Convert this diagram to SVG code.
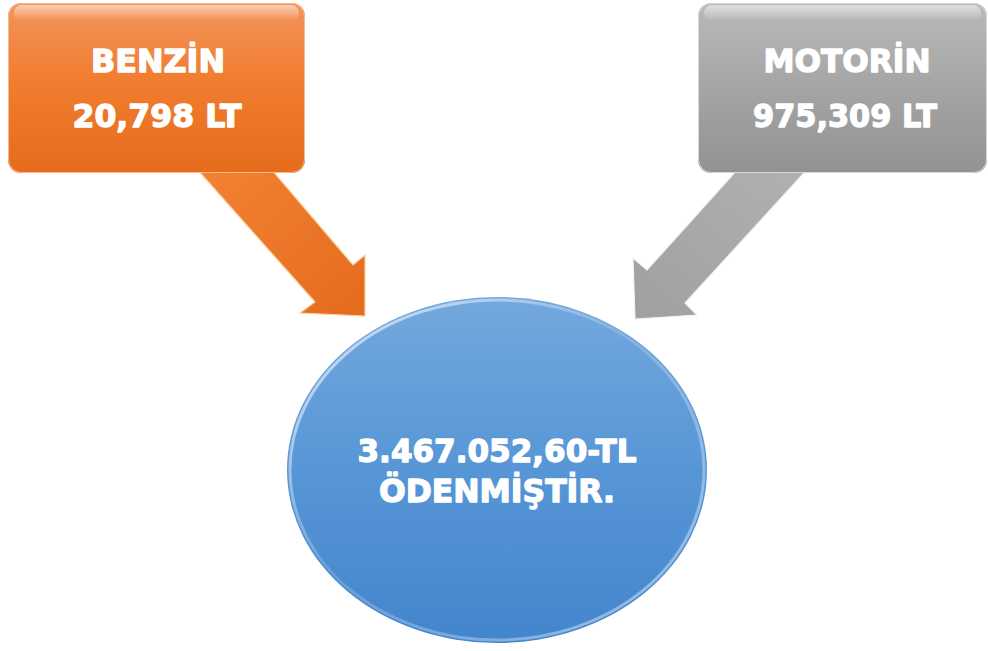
<svg xmlns="http://www.w3.org/2000/svg" width="988" height="651" viewBox="0 0 988 651">
  <defs>
    <linearGradient id="gOrange" x1="0" y1="0" x2="0" y2="1">
      <stop offset="0" stop-color="#f3945c"/>
      <stop offset="0.45" stop-color="#f17d30"/>
      <stop offset="1" stop-color="#e66c1c"/>
    </linearGradient>
    <linearGradient id="gGray" x1="0" y1="0" x2="0" y2="1">
      <stop offset="0" stop-color="#b9b9b9"/>
      <stop offset="0.5" stop-color="#a5a5a5"/>
      <stop offset="1" stop-color="#929292"/>
    </linearGradient>
    <linearGradient id="gGloss" x1="0" y1="0" x2="0" y2="1">
      <stop offset="0" stop-color="#ffffff" stop-opacity="0.55"/>
      <stop offset="1" stop-color="#ffffff" stop-opacity="0"/>
    </linearGradient>
    <linearGradient id="gBlue" x1="0" y1="0" x2="0" y2="1">
      <stop offset="0" stop-color="#74a8de"/>
      <stop offset="0.5" stop-color="#5796d6"/>
      <stop offset="1" stop-color="#4385cc"/>
    </linearGradient>
    <linearGradient id="gRim" x1="0" y1="0" x2="1" y2="1">
      <stop offset="0" stop-color="#ffffff" stop-opacity="0.75"/>
      <stop offset="0.45" stop-color="#ffffff" stop-opacity="0.15"/>
      <stop offset="1" stop-color="#ffffff" stop-opacity="0.5"/>
    </linearGradient>
    <linearGradient id="gArrowO" x1="0" y1="0" x2="1" y2="1">
      <stop offset="0" stop-color="#f48535"/>
      <stop offset="1" stop-color="#e56b1d"/>
    </linearGradient>
    <linearGradient id="gArrowG" x1="1" y1="0" x2="0" y2="1">
      <stop offset="0" stop-color="#b3b3b3"/>
      <stop offset="1" stop-color="#a0a0a0"/>
    </linearGradient>
  </defs>
  <style>
    .lbl { font-family: "DejaVu Sans", Verdana, sans-serif; font-weight: bold; font-size: 32px; fill: #ffffff; stroke: #ffffff; stroke-width: 1.3px; stroke-linejoin: round; text-anchor: middle; }
    .box { stroke: none; }
  </style>

  <g id="connectors">
    <polygon id="arrow-benzin" points="180,150 315,302 300,313 365,316 365,255 353,265 255,150" fill="url(#gArrowO)" stroke="#fbd3a6" stroke-width="1.2" stroke-linejoin="miter"/>
    <polygon id="arrow-motorin" points="825,150 685,303 697,315 635,319 633,258 647,270 755,150" fill="url(#gArrowG)" stroke="#f2f2f2" stroke-width="1.2" stroke-linejoin="miter"/>
  </g>

  <g id="benzin">
    <rect class="box" x="8" y="3" width="297" height="170" rx="13" fill="url(#gOrange)"/>
    <rect x="14" y="5" width="285" height="16" rx="8" fill="url(#gGloss)"/>
    <rect x="8.5" y="3.5" width="296" height="169" rx="13" fill="none" stroke="#f9b98a" stroke-width="1"/>
    <text class="lbl" x="158" y="72" textLength="134" lengthAdjust="spacingAndGlyphs">BENZİN</text>
    <text class="lbl" x="157" y="127" textLength="169" lengthAdjust="spacingAndGlyphs">20,798 LT</text>
  </g>

  <g id="motorin">
    <rect class="box" x="698" y="3" width="289" height="170" rx="13" fill="url(#gGray)"/>
    <rect x="704" y="5" width="277" height="16" rx="8" fill="url(#gGloss)"/>
    <rect x="698.5" y="3.5" width="288" height="169" rx="13" fill="none" stroke="#d8d8d8" stroke-width="1"/>
    <text class="lbl" x="847" y="72" textLength="167" lengthAdjust="spacingAndGlyphs">MOTORİN</text>
    <text class="lbl" x="845" y="127" textLength="184" lengthAdjust="spacingAndGlyphs">975,309 LT</text>
  </g>

  <g id="total">
    <ellipse cx="497" cy="470" rx="210" ry="173" fill="url(#gBlue)"/>
    <ellipse cx="497" cy="470" rx="207" ry="170" fill="none" stroke="url(#gRim)" stroke-width="3"/>
    <text class="lbl" x="497" y="462" textLength="279" lengthAdjust="spacingAndGlyphs">3.467.052,60-TL</text>
    <text class="lbl" x="497" y="502" textLength="236" lengthAdjust="spacingAndGlyphs">ÖDENMİŞTİR.</text>
  </g>
</svg>
